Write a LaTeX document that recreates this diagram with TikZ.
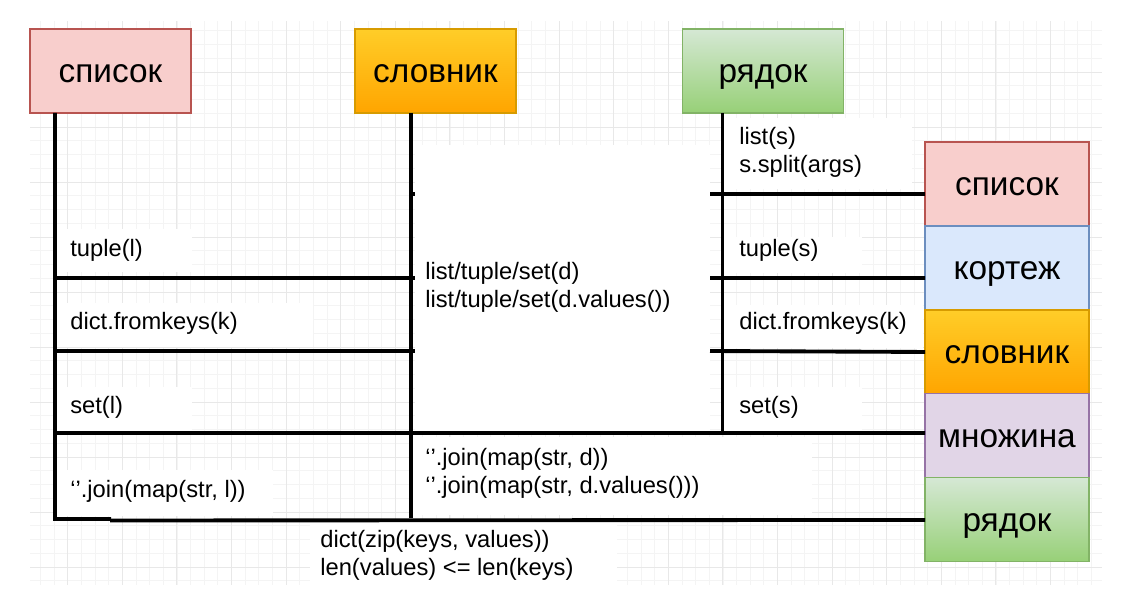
\documentclass[tikz,border=0pt]{standalone}
\usepackage{fontspec}
\setmainfont{Liberation Sans}
\usetikzlibrary{positioning,calc}
\definecolor{colRose}{HTML}{F8CECC}
\definecolor{colRoseT}{HTML}{B85450}
\definecolor{colBleu}{HTML}{DAE8FC}
\definecolor{colBleuT}{HTML}{6C8EBF}
\definecolor{colOrH}{HTML}{FFCD28}
\definecolor{colOrB}{HTML}{FFA500}
\definecolor{colOrT}{HTML}{D79B00}
\definecolor{colMauve}{HTML}{E1D5E7}
\definecolor{colMauveT}{HTML}{9673A6}
\definecolor{colVertH}{HTML}{D5E8D4}
\definecolor{colVertB}{HTML}{97D077}
\definecolor{colVertT}{HTML}{82B366}
\definecolor{colGrille}{HTML}{E8E8E8}
\definecolor{colGrilleF}{HTML}{F4F4F4}

\begin{document}
\begin{tikzpicture}[x=0.02cm, y=-0.02cm,
    font=\fontsize{13.5}{15.4}\selectfont,
    tbox/.style={rectangle, draw, line width=0.6pt, outer sep=0pt,
      minimum width=3.22cm, minimum height=1.68cm, inner sep=0pt,
      font=\fontsize{19}{22}\selectfont, text height=13pt, text depth=0pt},
    sbox/.style={tbox, minimum width=3.28cm},
    lbl/.style={anchor=base west, inner sep=0pt, align=left},
    ln/.style={line width=2.2pt}]
    \useasboundingbox (0,0) rectangle (1123,605);
    % grille de fond
    \foreach \k in {2,...,79}
      \draw[colGrilleF, line width=0.3pt] ({13+13.65*\k},21) -- ({13+13.65*\k},585);
    \foreach \k in {1,...,41}
      \draw[colGrilleF, line width=0.3pt] (30,{17+13.75*\k}) -- (1102,{17+13.75*\k});
    \foreach \k in {1,...,19}
      \draw[colGrille, line width=0.5pt] ({13+54.6*\k},21) -- ({13+54.6*\k},585);
    \foreach \k in {1,...,10}
      \draw[colGrille, line width=0.5pt] (30,{17+55*\k}) -- (1102,{17+55*\k});
    % fonds blancs des etiquettes
    \foreach \xa/\ya/\xb/\yb in {57/229/192/272, 57/303/313/347, 57/387/192/431,
        57/470/273/516, 415/145/710/431, 722/118/912/189, 722/237/862/273,
        722/305/923/348, 722/387/862/431, 413/437/812/515, 310/522/617/600}
      \fill[white] (\xa,\ya) rectangle (\xb,\yb);
    % types source
    \node[tbox, fill=colRose, draw=colRoseT] (spL) at (110.5,71) {список};
    \node[tbox, top color=colOrH, bottom color=colOrB, draw=colOrT]
      (slL) at (435.5,71) {словник};
    \node[tbox, top color=colVertH, bottom color=colVertB, draw=colVertT]
      (rdL) at (763,71) {рядок};
    % types cible
    \node[sbox, fill=colRose, draw=colRoseT] (spR) at (1007,184) {список};
    \node[sbox, fill=colBleu, draw=colBleuT, below=0pt of spR] (ktR) {кортеж};
    \node[sbox, top color=colOrH, bottom color=colOrB, draw=colOrT,
      below=0pt of ktR] (slR) {словник};
    \node[sbox, fill=colMauve, draw=colMauveT, below=0pt of slR] (mnR) {множина};
    \node[sbox, top color=colVertH, bottom color=colVertB, draw=colVertT,
      below=0pt of mnR] (rdR) {рядок};
    % lignes
    \coordinate (pL) at ($(spL.south west)+(25,0)$);
    \coordinate (pS) at ($(slL.south west)+(56,0)$);
    \coordinate (pR) at ($(rdL.south west)+(40,0)$);
    \coordinate (bL) at (55,519);
    \draw[ln] (pL) -- (bL) -- ++(56,0);
    \draw[ln] (pS) -- (pS |- 0,518);
    \draw[ln] (pR) -- (pR |- 0,433);
    \draw[ln] (pS |- 0,194) -- ++(4,0);
    \draw[ln] (710,194) -- ($(spR.west)+(0,10)$);
    \draw[ln] (pL |- 0,278) -- (415,278);
    \draw[ln] (710,278) -- ($(ktR.west)+(0,10)$);
    \draw[ln] (pL |- 0,351) -- (415,351);
    \draw[ln] (710,351) -- (slR.west);
    \draw[ln] (pL |- 0,433) -- ($(mnR.west)+(0,-3)$);
    \draw[ln] (110,520.5) -- (rdR.west);
    % etiquettes
    \node[lbl] (tl) at (70,256) {tuple(l)};
    \node[lbl] (fl) at (70,329) {dict.fromkeys(k)};
    \node[lbl] (sl) at (70,413) {set(l)};
    \node[lbl] (jl) at (70,497) {‘’.join(map(str, l))};
    \node[lbl] (ld) at (425,307) {list/tuple/set(d)\\list/tuple/set(d.values())};
    \node[lbl] (jd) at (425,493) {‘’.join(map(str, d))\\‘’.join(map(str, d.values()))};
    \node[lbl] (zk) at (320,575) {dict(zip(keys, values))\\len(values) <= len(keys)};
    \node[lbl] (ls) at (739,172) {list(s)\\s.split(args)};
    \node[lbl] (ts) at (739,256) {tuple(s)};
    \node[lbl] (fs) at (739,329) {dict.fromkeys(k)};
    \node[lbl] (ss) at (739,413) {set(s)};
\end{tikzpicture}
\end{document}
